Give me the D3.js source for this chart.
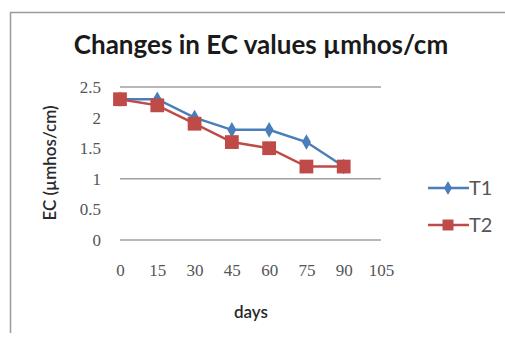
<!DOCTYPE html>
<html><head><meta charset="utf-8">
<script src="https://cdn.jsdelivr.net/npm/d3@7"></script>
<style>html,body{margin:0;padding:0;background:#fff;}svg{display:block;}</style>
</head><body>
<svg id="chart" width="505" height="345"></svg>
<script>
// EC readings over the sampling days for two treatments
const days = [0, 15, 30, 45, 60, 75, 90];
const t1Values = [2.3, 2.3, 2.0, 1.8, 1.8, 1.6, 1.2];
const t2Values = [2.3, 2.2, 1.9, 1.6, 1.5, 1.2, 1.2];
const xTicks = [0, 15, 30, 45, 60, 75, 90, 105];
const yTicks = [0, 0.5, 1, 1.5, 2, 2.5];
const gridValues = [0, 1, 2.5];
const seriesNames = ["T1", "T2"];

const svg = d3.select("#chart");
const x = d3.scaleLinear().domain([0, 105]).range([120, 381]);
const y = d3.scaleLinear().domain([0, 2.5]).range([240, 87]);

// outer frame (left and top edges)
svg.append("path").attr("d", "M10.5,333 V12.5 H505")
  .attr("fill", "none").attr("stroke", "#9a9a9a").attr("stroke-width", 1.5);

svg.append("text").attr("x", 261).attr("y", 54).attr("text-anchor", "middle")
  .attr("font-family", "Lato, 'Open Sans', sans-serif").attr("font-weight", "bold")
  .attr("font-size", 26).attr("fill", "#1a1a1a").text("Changes in EC values µmhos/cm");

// horizontal gridlines
svg.append("g").selectAll("line").data(gridValues).join("line")
  .attr("x1", x(0)).attr("x2", x(105))
  .attr("y1", d => y(d)).attr("y2", d => y(d))
  .attr("stroke", "#a0a0a0").attr("stroke-width", 1.5);

const tickFont = "'Liberation Serif', serif";
const yAxis = svg.append("g").attr("transform", "translate(101,0)")
  .call(d3.axisLeft(y).tickValues(yTicks).tickSize(0).tickPadding(0).tickFormat(d3.format("")));
yAxis.select(".domain").remove();
yAxis.selectAll("text").attr("font-family", tickFont).attr("font-size", 17).attr("fill", "#555");

const xAxis = svg.append("g").attr("transform", "translate(0,264)")
  .call(d3.axisBottom(x).tickValues(xTicks).tickSize(0).tickPadding(0));
xAxis.select(".domain").remove();
xAxis.selectAll("text").attr("font-family", tickFont).attr("font-size", 17).attr("fill", "#555");

svg.append("text").attr("x", 251).attr("y", 318).attr("text-anchor", "middle")
  .attr("font-family", "Lato, sans-serif").attr("font-weight", 600).attr("font-size", 17).attr("fill", "#2a2a2a").text("days");

svg.append("text").attr("transform", "translate(56,163) rotate(-90)").attr("text-anchor", "middle")
  .attr("font-family", "Lato, sans-serif").attr("font-weight", 600).attr("font-size", 17).attr("fill", "#2a2a2a").text("EC (µmhos/cm)");

const colors = ["#4a7ebb", "#be4b48"];
const line = d3.line().x(d => x(d[0])).y(d => y(d[1]));
const diamond = d3.symbol().type(d3.symbolDiamond).size(70);
const square = d3.symbol().type(d3.symbolSquare).size(190);

function drawSeries(vals, i, sym) {
  const pts = days.map((d, k) => [d, vals[k]]);
  svg.append("path").datum(pts).attr("d", line).attr("fill", "none")
    .attr("stroke", colors[i]).attr("stroke-width", 2.5);
  svg.append("g").selectAll("path").data(pts).join("path")
    .attr("transform", d => `translate(${x(d[0])},${y(d[1])})`)
    .attr("d", sym).attr("fill", colors[i]);
}
drawSeries(t1Values, 0, diamond);
drawSeries(t2Values, 1, square);

// legend
const legY = [188, 225];
const legSyms = [d3.symbol().type(d3.symbolDiamond).size(55), d3.symbol().type(d3.symbolSquare).size(120)];
seriesNames.forEach((n, i) => {
  svg.append("line").attr("x1", 428).attr("x2", 469).attr("y1", legY[i]).attr("y2", legY[i])
    .attr("stroke", colors[i]).attr("stroke-width", 2.5);
  svg.append("path").attr("transform", `translate(448,${legY[i]})`).attr("d", legSyms[i]).attr("fill", colors[i]);
  svg.append("text").attr("x", 469).attr("y", legY[i] + 7)
    .attr("font-family", "Lato, sans-serif").attr("font-size", 20).attr("fill", "#555").text(n);
});
</script>
</body></html>
